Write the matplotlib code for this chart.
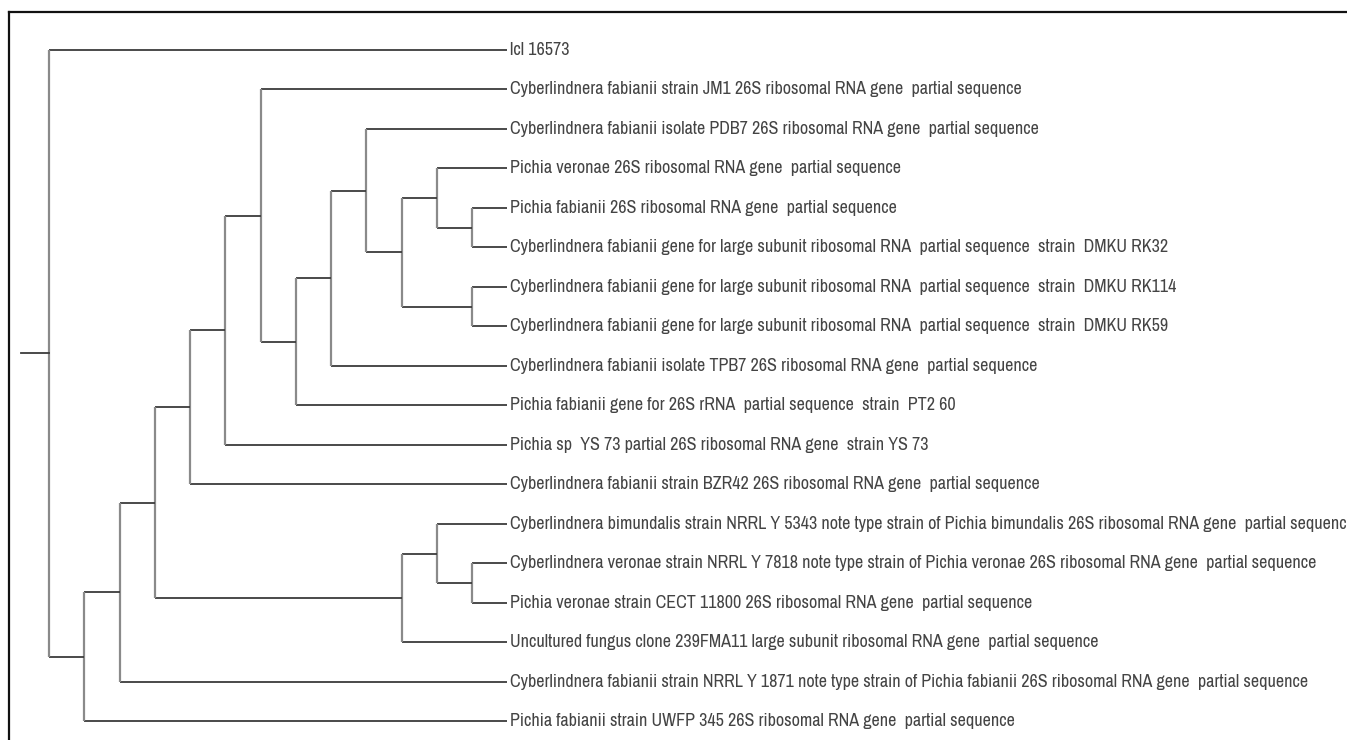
import matplotlib.pyplot as plt

plt.rcParams['font.family'] = ['Archivo Narrow', 'DejaVu Sans']

labels = [
    'lcl 16573',
    'Cyberlindnera fabianii strain JM1 26S ribosomal RNA gene  partial sequence',
    'Cyberlindnera fabianii isolate PDB7 26S ribosomal RNA gene  partial sequence',
    'Pichia veronae 26S ribosomal RNA gene  partial sequence',
    'Pichia fabianii 26S ribosomal RNA gene  partial sequence',
    'Cyberlindnera fabianii gene for large subunit ribosomal RNA  partial sequence  strain  DMKU RK32',
    'Cyberlindnera fabianii gene for large subunit ribosomal RNA  partial sequence  strain  DMKU RK114',
    'Cyberlindnera fabianii gene for large subunit ribosomal RNA  partial sequence  strain  DMKU RK59',
    'Cyberlindnera fabianii isolate TPB7 26S ribosomal RNA gene  partial sequence',
    'Pichia fabianii gene for 26S rRNA  partial sequence  strain  PT2 60',
    'Pichia sp  YS 73 partial 26S ribosomal RNA gene  strain YS 73',
    'Cyberlindnera fabianii strain BZR42 26S ribosomal RNA gene  partial sequence',
    'Cyberlindnera bimundalis strain NRRL Y 5343 note type strain of Pichia bimundalis 26S ribosomal RNA gene  partial sequence',
    'Cyberlindnera veronae strain NRRL Y 7818 note type strain of Pichia veronae 26S ribosomal RNA gene  partial sequence',
    'Pichia veronae strain CECT 11800 26S ribosomal RNA gene  partial sequence',
    'Uncultured fungus clone 239FMA11 large subunit ribosomal RNA gene  partial sequence',
    'Cyberlindnera fabianii strain NRRL Y 1871 note type strain of Pichia fabianii 26S ribosomal RNA gene  partial sequence',
    'Pichia fabianii strain UWFP 345 26S ribosomal RNA gene  partial sequence',
]

# topology (leaf indices), cladogram without branch lengths
tree = [0, [[[[[[1, [[[2, [[3, [4, 5]], [6, 7]]], 8], 9]], 10], 11],
              [[12, [13, 14]], 15]], 16], 17]]


def height(node):
    if isinstance(node, int):
        return 0
    return 1 + max(height(c) for c in node)


H = height(tree)
hcol = '#3c3c3c'
vcol = '#8a8a8a'


def draw(ax, node):
    if isinstance(node, int):
        return H, node
    x = H - height(node)
    pts = [draw(ax, c) for c in node]
    ys = [p[1] for p in pts]
    for cx, cy in pts:
        ax.plot([x, cx], [cy, cy], color=hcol, lw=1.3, solid_capstyle='butt')
    ax.plot([x, x], [min(ys), max(ys)], color=vcol, lw=1.6, solid_capstyle='butt')
    return x, (min(ys) + max(ys)) / 2


fig = plt.figure(figsize=(13.47, 7.40), dpi=100)
ax = fig.add_axes([9 / 1347, 0, 1338 / 1347, 728 / 740])

rx, ry = draw(ax, tree)
ax.plot([rx - 0.8, rx], [ry, ry], color=hcol, lw=1.3)

for i, lab in enumerate(labels):
    ax.text(H + 0.08, i, lab, va='center', ha='left', fontsize=13,
            color='#444444', clip_on=False)

ax.set_xlim(-1.135, 36.82)
ax.set_ylim(17.47, -0.962)
ax.set_xticks([])
ax.set_yticks([])
for s in ['right', 'bottom']:
    ax.spines[s].set_visible(False)
for s in ['left', 'top']:
    ax.spines[s].set_linewidth(1.6)
    ax.spines[s].set_color('#111111')

fig.savefig('out.png', dpi=100)
